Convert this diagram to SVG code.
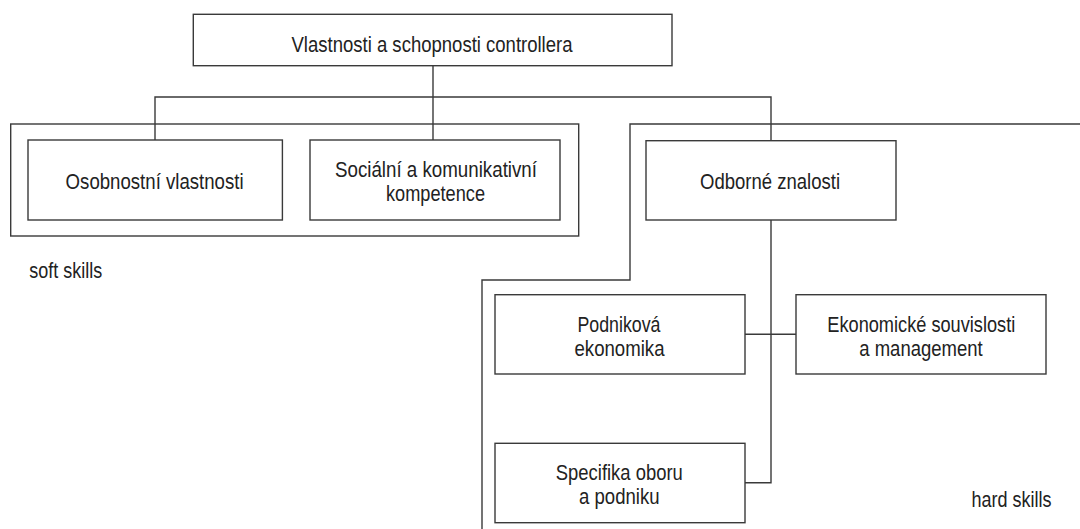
<svg xmlns="http://www.w3.org/2000/svg" width="1080" height="529" viewBox="0 0 1080 529">
<style>
.box{fill:#fff;stroke:#3a3a3a;stroke-width:1.4}
.ln{fill:none;stroke:#3a3a3a;stroke-width:1.4}
.t{font-family:"Liberation Sans Narrow","Liberation Sans",Arial,sans-serif;font-size:22.5px;fill:#222;text-anchor:middle}
.l{font-family:"Liberation Sans Narrow","Liberation Sans",Arial,sans-serif;font-size:22.5px;fill:#222}
</style>
<rect width="1080" height="529" fill="#fff"/>
<g id="groups">
<rect id="soft-group" class="ln" x="10.7" y="124" width="568" height="112"/>
<polyline id="hard-group" class="ln" points="1080,124 630,124 630,280 482,280 482,529"/>
<text class="l" x="29.3" y="277.5" textLength="73" lengthAdjust="spacingAndGlyphs">soft skills</text>
<text class="l" x="971.5" y="507" textLength="80" lengthAdjust="spacingAndGlyphs">hard skills</text>
</g>
<g id="connectors">
<line class="ln" x1="433" y1="66" x2="433" y2="140"/>
<polyline class="ln" points="155,140 155,97 771,97 771,140.7"/>
<polyline class="ln" points="771,220 771,482.7 745,482.7"/>
<line class="ln" x1="745" y1="334.3" x2="796" y2="334.3"/>
</g>
<g id="root">
<rect class="box" x="193.3" y="14.3" width="478.7" height="51.4"/>
<text class="t" x="432" y="52" textLength="281" lengthAdjust="spacingAndGlyphs">Vlastnosti a schopnosti controllera</text>
</g>
<g id="osobnostni">
<rect class="box" x="28" y="140" width="254.4" height="80"/>
<text class="t" x="154.6" y="189" textLength="178" lengthAdjust="spacingAndGlyphs">Osobnostní vlastnosti</text>
</g>
<g id="socialni">
<rect class="box" x="310" y="140" width="250" height="80"/>
<text class="t" x="436" y="177" textLength="202" lengthAdjust="spacingAndGlyphs">Sociální a komunikativní</text>
<text class="t" x="435.5" y="201" textLength="99" lengthAdjust="spacingAndGlyphs">kompetence</text>
</g>
<g id="odborne">
<rect class="box" x="646" y="140.7" width="250" height="79.3"/>
<text class="t" x="770" y="189" textLength="140" lengthAdjust="spacingAndGlyphs">Odborné znalosti</text>
</g>
<g id="podnikova">
<rect class="box" x="495" y="294.7" width="250" height="79.3"/>
<text class="t" x="619" y="331.5" textLength="83" lengthAdjust="spacingAndGlyphs">Podniková</text>
<text class="t" x="619.5" y="355.5" textLength="90" lengthAdjust="spacingAndGlyphs">ekonomika</text>
</g>
<g id="ekonomicke">
<rect class="box" x="796" y="294.7" width="250" height="79.3"/>
<text class="t" x="921.3" y="331.5" textLength="188" lengthAdjust="spacingAndGlyphs">Ekonomické souvislosti</text>
<text class="t" x="921" y="355.5" textLength="123.5" lengthAdjust="spacingAndGlyphs">a management</text>
</g>
<g id="specifika">
<rect class="box" x="495" y="443.3" width="250" height="79.4"/>
<text class="t" x="619.3" y="479.5" textLength="127" lengthAdjust="spacingAndGlyphs">Specifika oboru</text>
<text class="t" x="619.3" y="503.5" textLength="80.5" lengthAdjust="spacingAndGlyphs">a podniku</text>
</g>
</svg>
